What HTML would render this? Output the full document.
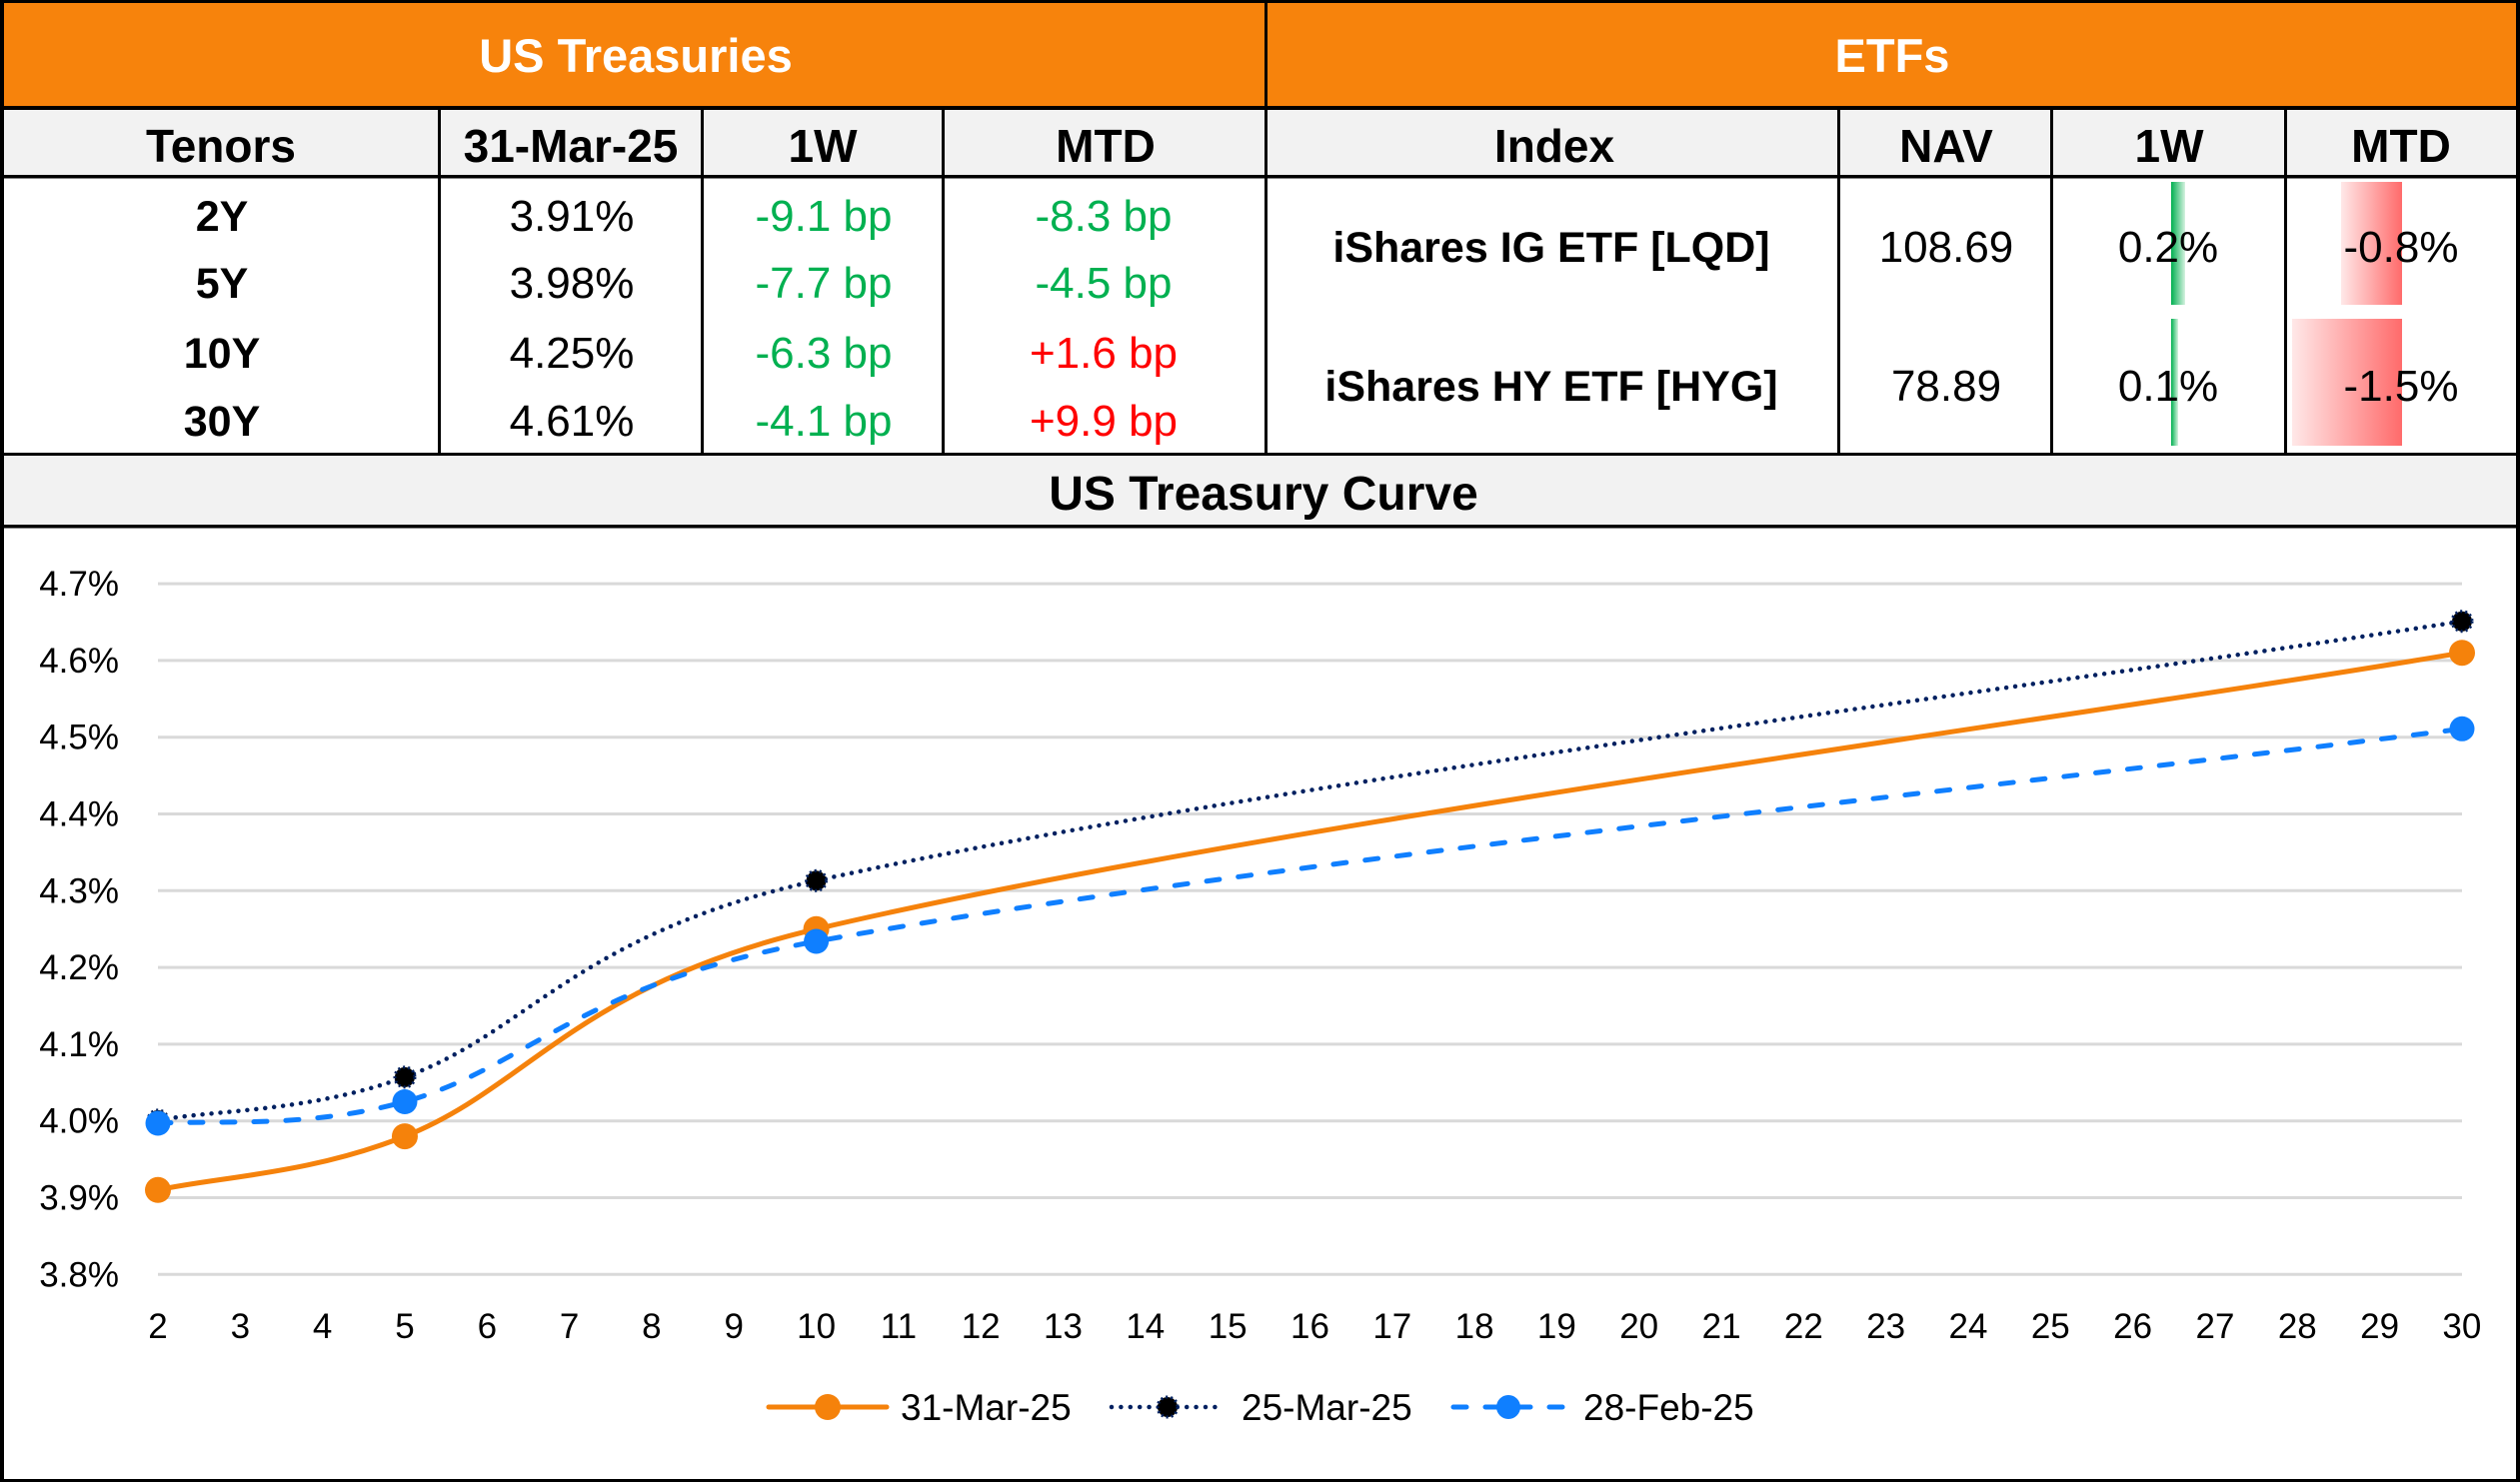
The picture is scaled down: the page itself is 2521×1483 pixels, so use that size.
<!DOCTYPE html>
<html><head><meta charset="utf-8"><style>
html,body{margin:0;padding:0;background:#fff;}
svg{display:block;}
text{font-family:"Liberation Sans",Arial,sans-serif;}
</style></head><body>
<svg width="2521" height="1483" viewBox="0 0 2521 1483" xmlns="http://www.w3.org/2000/svg">
<defs>
<linearGradient id="gG" x1="0" x2="1" y1="0" y2="0"><stop offset="0" stop-color="#00B050"/><stop offset="1" stop-color="#D6F2E0"/></linearGradient>
<linearGradient id="gR" x1="0" x2="1" y1="0" y2="0"><stop offset="0" stop-color="#FFE8E8"/><stop offset="1" stop-color="#FF6B6B"/></linearGradient>
</defs>
<rect width="2521" height="1483" fill="#fff"/>
<!-- header -->
<rect x="0" y="0" width="2521" height="108" fill="#F7830C"/>
<rect x="0" y="108" width="2521" height="69" fill="#F2F2F2"/>
<rect x="0" y="455" width="2521" height="72" fill="#F2F2F2"/>
<!-- bars -->
<rect x="2172" y="182" width="14" height="123" fill="url(#gG)"/>
<rect x="2172" y="319" width="7" height="127" fill="url(#gG)"/>
<rect x="2342" y="182" width="61" height="123" fill="url(#gR)"/>
<rect x="2293" y="319" width="110" height="127" fill="url(#gR)"/>
<!-- lines -->
<g fill="#000">
<rect x="0" y="0" width="2521" height="3"/>
<rect x="0" y="106" width="2521" height="4"/>
<rect x="0" y="175" width="2521" height="3.5"/>
<rect x="0" y="453" width="2521" height="3"/>
<rect x="0" y="525" width="2521" height="3.5"/>
<rect x="0" y="1480" width="2521" height="3"/>
<rect x="0" y="0" width="4" height="1483"/>
<rect x="2517" y="0" width="4" height="1483"/>
<rect x="1265" y="0" width="3" height="455"/>
<rect x="438" y="106" width="3" height="349"/>
<rect x="701" y="106" width="3" height="349"/>
<rect x="942" y="106" width="3" height="349"/>
<rect x="1838" y="106" width="3" height="349"/>
<rect x="2051" y="106" width="3" height="349"/>
<rect x="2285" y="106" width="3" height="349"/>
</g>
<!-- header texts -->
<g font-weight="bold" fill="#fff" font-size="47" text-anchor="middle">
<text x="636" y="72">US Treasuries</text>
<text x="1893" y="72">ETFs</text>
</g>
<g font-weight="bold" fill="#000" font-size="46" text-anchor="middle">
<text x="221" y="162">Tenors</text>
<text x="571" y="162">31-Mar-25</text>
<text x="823" y="162">1W</text>
<text x="1106" y="162">MTD</text>
<text x="1555" y="162">Index</text>
<text x="1947" y="162">NAV</text>
<text x="2170" y="162">1W</text>
<text x="2402" y="162">MTD</text>
</g>
<g font-weight="bold" fill="#000" font-size="43" text-anchor="middle">
<text x="222" y="231">2Y</text>
<text x="222" y="298">5Y</text>
<text x="222" y="368">10Y</text>
<text x="222" y="436">30Y</text>
<text x="1552" y="262">iShares IG ETF [LQD]</text>
<text x="1552" y="401">iShares HY ETF [HYG]</text>
</g>
<g fill="#000" font-size="44" text-anchor="middle">
<text x="572" y="231">3.91%</text>
<text x="572" y="298">3.98%</text>
<text x="572" y="368">4.25%</text>
<text x="572" y="436">4.61%</text>
<text x="1947" y="262">108.69</text>
<text x="1947" y="401">78.89</text>
<text x="2169" y="262">0.2%</text>
<text x="2169" y="401">0.1%</text>
<text x="2402" y="262">-0.8%</text>
<text x="2402" y="401">-1.5%</text>
</g>
<g fill="#00B050" font-size="44" text-anchor="middle">
<text x="824" y="231">-9.1 bp</text>
<text x="824" y="298">-7.7 bp</text>
<text x="824" y="368">-6.3 bp</text>
<text x="824" y="436">-4.1 bp</text>
<text x="1104" y="231">-8.3 bp</text>
<text x="1104" y="298">-4.5 bp</text>
</g>
<g fill="#FF0000" font-size="44" text-anchor="middle">
<text x="1104" y="368">+1.6 bp</text>
<text x="1104" y="436">+9.9 bp</text>
</g>
<text x="1264" y="510" font-weight="bold" font-size="48" text-anchor="middle" fill="#000">US Treasury Curve</text>
<!-- gridlines -->
<g stroke="#D9D9D9" stroke-width="3">
<line x1="158" x2="2463" y1="1275.3" y2="1275.3"/>
<line x1="158" x2="2463" y1="1198.5" y2="1198.5"/>
<line x1="158" x2="2463" y1="1121.7" y2="1121.7"/>
<line x1="158" x2="2463" y1="1044.9" y2="1044.9"/>
<line x1="158" x2="2463" y1="968.1" y2="968.1"/>
<line x1="158" x2="2463" y1="891.3" y2="891.3"/>
<line x1="158" x2="2463" y1="814.5" y2="814.5"/>
<line x1="158" x2="2463" y1="737.7" y2="737.7"/>
<line x1="158" x2="2463" y1="660.9" y2="660.9"/>
<line x1="158" x2="2463" y1="584.1" y2="584.1"/>
</g>
<g fill="#000" font-size="35" text-anchor="end">
<text x="119" y="1287.3">3.8%</text>
<text x="119" y="1210.5">3.9%</text>
<text x="119" y="1133.7">4.0%</text>
<text x="119" y="1056.9">4.1%</text>
<text x="119" y="980.1">4.2%</text>
<text x="119" y="903.3">4.3%</text>
<text x="119" y="826.5">4.4%</text>
<text x="119" y="749.7">4.5%</text>
<text x="119" y="672.9">4.6%</text>
<text x="119" y="596.1">4.7%</text>
</g>
<g fill="#000" font-size="35" text-anchor="middle">
<text x="158" y="1339">2</text><text x="240.3" y="1339">3</text><text x="322.6" y="1339">4</text><text x="405" y="1339">5</text>
<text x="487.3" y="1339">6</text><text x="569.6" y="1339">7</text><text x="651.9" y="1339">8</text><text x="734.2" y="1339">9</text>
<text x="816.6" y="1339">10</text><text x="898.9" y="1339">11</text><text x="981.2" y="1339">12</text><text x="1063.5" y="1339">13</text>
<text x="1145.8" y="1339">14</text><text x="1228.2" y="1339">15</text><text x="1310.5" y="1339">16</text><text x="1392.8" y="1339">17</text>
<text x="1475.1" y="1339">18</text><text x="1557.4" y="1339">19</text><text x="1639.7" y="1339">20</text><text x="1722.1" y="1339">21</text>
<text x="1804.4" y="1339">22</text><text x="1886.7" y="1339">23</text><text x="1969" y="1339">24</text><text x="2051.3" y="1339">25</text>
<text x="2133.6" y="1339">26</text><text x="2216" y="1339">27</text><text x="2298.3" y="1339">28</text><text x="2380.6" y="1339">29</text>
<text x="2462.9" y="1339">30</text>
</g>
<!-- series -->
<path d="M158,1190.8 C219.74,1177.37 308.92,1175.18 404.96,1137.1 C528.44,1088.14 576.46,986.16 816.56,929.7 C1262.47,824.85 2051.39,722.33 2463,653.2" fill="none" stroke="#F5820B" stroke-width="5"/>
<g fill="#F5820B">
<circle cx="158" cy="1190.8" r="13"/><circle cx="404.96" cy="1137.1" r="13"/><circle cx="816.56" cy="929.7" r="13"/><circle cx="2463" cy="653.2" r="13"/>
</g>
<path d="M158,1120.9 C219.74,1110.15 308.92,1112.84 404.96,1077.9 C528.44,1032.97 576.46,934.52 816.56,881.3 C1262.47,782.46 2051.39,686.6 2463,621.7" fill="none" stroke="#002060" stroke-width="4.5" stroke-dasharray="0 9" stroke-linecap="round"/>
<g fill="#000" stroke="#002060" stroke-width="3" stroke-dasharray="2 3">
<circle cx="158" cy="1120.9" r="10"/><circle cx="404.96" cy="1077.9" r="10"/><circle cx="816.56" cy="881.3" r="10"/><circle cx="2463" cy="621.7" r="10"/>
</g>
<path d="M158,1124 C219.74,1120.95 308.92,1129.04 404.96,1102.5 C528.44,1067.79 576.46,985.54 816.56,942 C1262.47,861.14 2051.39,782.48 2463,729.3" fill="none" stroke="#0F7FFF" stroke-width="5" stroke-dasharray="13 19" stroke-linecap="round"/>
<g fill="#0F7FFF">
<circle cx="158" cy="1124" r="12.5"/><circle cx="404.96" cy="1102.5" r="12.5"/><circle cx="816.56" cy="942" r="12.5"/><circle cx="2463" cy="729.3" r="12.5"/>
</g>
<!-- legend -->
<line x1="769" x2="887" y1="1408" y2="1408" stroke="#F5820B" stroke-width="5" stroke-linecap="round"/>
<circle cx="828" cy="1408" r="13" fill="#F5820B"/>
<line x1="1112" x2="1224" y1="1408" y2="1408" stroke="#002060" stroke-width="4.5" stroke-dasharray="0 9.4" stroke-linecap="round"/>
<circle cx="1168" cy="1408" r="10" fill="#000" stroke="#002060" stroke-width="3" stroke-dasharray="2 3"/>
<line x1="1454" x2="1566" y1="1408" y2="1408" stroke="#0F7FFF" stroke-width="5" stroke-dasharray="13 19" stroke-linecap="round"/>
<circle cx="1509" cy="1408" r="12" fill="#0F7FFF"/>
<g fill="#000" font-size="37">
<text x="901" y="1421">31-Mar-25</text>
<text x="1242" y="1421">25-Mar-25</text>
<text x="1584" y="1421">28-Feb-25</text>
</g>
</svg>
</body></html>
